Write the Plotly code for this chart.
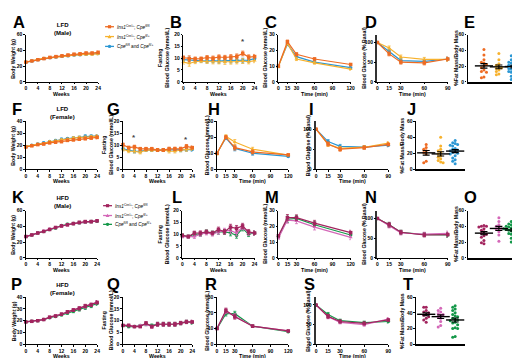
import plotly.graph_objects as go
import numpy as np

W, H = 520, 358
FONT = "Arial, 'Liberation Sans', sans-serif"

# ---------------- data ----------------
weeks = [0, 2, 4, 6, 8, 10, 12, 14, 16, 18, 20, 22, 24]
gtt_min = [0, 15, 30, 60, 120]
itt_min = [0, 15, 30, 60, 90]
week_ticks = [0, 4, 8, 12, 16, 20, 24]
gtt_ticks = [0, 15, 30, 60, 90, 120]
itt_ticks = [0, 15, 30, 60, 90]

group_names = ["<i>Ins1</i><sup>Cre/+</sup>; <i>Cpe</i><sup>fl/fl</sup>",
               "<i>Ins1</i><sup>Cre/+</sup>; <i>Cpe</i><sup>fl/+</sup>",
               "<i>Cpe</i><sup>fl/fl</sup> and <i>Cpe</i><sup>fl/+</sup>"]

# LFD male
A_o = [25, 26.5, 28, 29.5, 31, 32, 33, 34, 35, 35.5, 36.5, 36.5, 37.5]
A_y = [25, 26.5, 28, 30, 30.5, 31.5, 32.5, 33, 34, 34.5, 35, 35, 35.5]
A_b = [25, 26.5, 28, 29.5, 30.5, 31.5, 32.5, 33, 34, 34.5, 35, 35.5, 36]
A_err = [0.6, 0.7, 0.8, 0.8, 0.9, 1, 1, 1.1, 1.2, 1.2, 1.3, 1.3, 1.4]
B_o = [10.2, 9.8, 9.7, 9.8, 10.3, 10, 10.5, 10.3, 10.5, 10.8, 12, 10.5, 10.7]
B_y = [8.3, 7.8, 8.5, 8.8, 8.6, 8.5, 8.5, 8.3, 8.5, 8.6, 8.8, 8.5, 9]
B_b = [9.4, 9.2, 9, 9, 8.8, 9, 8.8, 9, 9, 9.2, 9, 9.2, 9.8]
B_err = [0.8, 1.2, 0.8, 0.7, 0.8, 0.9, 0.9, 0.9, 1, 1, 1, 0.9, 0.9]
C_o = [10, 25.5, 17.5, 14.5, 11]
C_y = [9.5, 24.5, 14.5, 12, 8]
C_b = [10, 24, 16, 12.5, 9]
C_err = [0.6, 1, 1, 0.8, 0.7]
D_o = [100, 71, 50, 48, 58]
D_y = [100, 86, 63, 57, 57]
D_b = [100, 78, 54, 52, 58]
D_err = [0, 5, 5, 5, 5]
E_o = [41, 34, 28, 25, 24, 22, 20, 18, 15, 13, 12, 6, 5]
E_y = [36, 28, 23, 21, 19, 18, 17, 15, 13, 10, 9]
E_b = [35, 33, 32, 30, 28, 27, 26, 25, 24, 23, 22, 21, 20, 20, 19, 18, 17, 16,
       15, 14, 13, 12, 10, 9, 7, 5, 3]

# LFD female
F_o = [18.5, 19.5, 20.5, 21, 22, 22.5, 23, 24, 24.5, 25, 25.5, 26, 26.5]
F_y = [19, 20, 21, 21.5, 23, 23.5, 24.5, 25, 26, 26.5, 26.5, 27, 27.5]
F_b = [19, 20, 21, 22, 23, 24, 25, 25.5, 26, 26.5, 27.5, 27.5, 27.5]
F_err = [0.5, 0.6, 0.6, 0.7, 0.8, 0.8, 0.9, 0.9, 1, 1, 1.1, 1.1, 1.2]
G_o = [10.2, 9, 9.3, 8.5, 8.5, 8.5, 8, 8, 8.5, 8.5, 8.5, 9.5, 9]
G_y = [8.3, 7.5, 7.5, 7, 8, 8, 8, 8, 7.5, 7.5, 8, 8.3, 8.5]
G_b = [8.5, 8, 7.5, 7.5, 8, 8, 8, 8, 8, 8, 8, 8.3, 8.2]
G_err = [0.7, 0.6, 0.7, 0.6, 0.6, 0.6, 0.6, 0.6, 0.7, 0.7, 0.7, 0.8, 0.7]
H_o = [10, 20, 13.5, 10.8, 9]
H_y = [9.5, 20.5, 17, 12.5, 8.8]
H_b = [10, 19.5, 13, 10, 8]
H_err = [0.6, 1, 1.5, 1.2, 0.6]
I_o = [100, 63, 50, 54, 62]
I_y = [100, 62, 52, 55, 65]
I_b = [100, 69, 57, 55, 60]
I_err = [0, 5, 5, 4, 4]
J_o = [31, 27, 25, 23, 21, 19, 10, 8]
J_y = [40, 29, 25, 23, 21, 19, 17, 15, 13, 11, 9, 8]
J_b = [36, 33, 32, 31, 30, 29, 26, 25, 24, 23, 22, 21, 20, 19, 17, 14, 12, 10, 7]

# HFD male
K_d = [27, 29, 31.5, 33.5, 36, 38.5, 40.5, 42, 43.5, 45, 46, 46, 47]
K_p = [27, 29, 31.5, 34, 36.5, 38.5, 40.5, 42, 43.5, 44.5, 45.5, 46, 47]
K_g = [27, 29, 31.5, 33.5, 36, 38, 41, 42.5, 43.5, 44.5, 45.5, 46, 46.5]
K_err = [0.7, 0.8, 1, 1.1, 1.2, 1.3, 1.3, 1.4, 1.4, 1.5, 1.5, 1.5, 1.5]
L_d = [9.5, 9, 10.5, 10.5, 11, 10.5, 12, 11, 13, 12.5, 13.5, 11, 10.5]
L_p = [9, 9, 9, 10, 10.5, 10, 11, 11.5, 11.5, 10.5, 13, 10.5, 10.5]
L_g = [9.5, 9, 10, 10, 11, 10.5, 11, 11, 10.5, 9.5, 12.5, 10, 10.5]
L_err = [0.6, 0.6, 0.8, 0.9, 0.8, 0.8, 1, 1, 1.2, 1.2, 1.1, 1, 0.9]
M_d = [14, 25.5, 25.5, 22, 16]
M_p = [12.5, 24, 23.5, 19.5, 13]
M_g = [13.5, 24.5, 25, 21, 14.5]
M_err = [0.8, 2, 1.8, 1.8, 1.5]
N_d = [100, 84, 65, 58, 59]
N_p = [100, 82, 63, 60, 62]
N_g = [100, 84, 65, 59, 58]
N_err = [0, 6, 5, 5, 6]
O_d = [41, 40, 40, 39, 37, 35, 33, 31, 30, 28, 26, 22, 19, 18]
O_p = [51, 46, 42, 40, 38, 37, 36, 33, 29, 21]
O_g = [48, 46, 45, 44, 43, 42, 42, 41, 40, 40, 39, 39, 38, 38, 37, 37, 36, 36,
       35, 35, 34, 33, 32, 31, 30, 28, 27, 25, 22, 20, 12]

# HFD female
P_d = [19, 19.5, 20, 21, 23, 24, 25.5, 27.5, 29, 30.5, 32.5, 33.5, 35.5]
P_p = [19, 19.5, 20, 21, 23, 24, 25.5, 27.5, 29, 30.5, 32, 33.5, 35.5]
P_g = [19, 19.5, 20, 21, 22.5, 23.5, 25, 26.5, 28, 29.5, 31, 32.5, 34.5]
P_err = [0.4, 0.4, 0.5, 0.5, 0.7, 0.8, 1, 1.1, 1.2, 1.3, 1.4, 1.4, 1.5]
Q_d = [8, 8, 7.5, 7.5, 9, 7.5, 8.5, 8.5, 8.5, 8.5, 9, 9.5, 9.5]
Q_p = [8, 8, 7.5, 8, 8.5, 7.5, 8.5, 8.5, 8.5, 8.5, 9, 9.5, 9.5]
Q_g = [8, 7.5, 7.5, 8, 8.5, 8, 8.5, 8.5, 8.5, 8.5, 9, 9.5, 9.2]
Q_err = [0.4, 0.5, 0.4, 0.4, 0.6, 0.6, 0.8, 0.8, 0.8, 0.8, 0.7, 0.7, 0.7]
R_d = [10, 21.5, 17.5, 11.5, 8.5]
R_p = [10, 21, 18, 11.5, 8.5]
R_g = [10, 19.5, 19.5, 11.5, 8]
R_err = [0.5, 1.5, 1.5, 0.8, 0.6]
S_d = [100, 71, 58, 53, 62]
S_p = [100, 70, 56, 50, 64]
S_g = [100, 76, 60, 55, 58]
S_err = [0, 5, 4, 4, 4]
T_d = [47, 47, 43, 41, 40, 38, 37, 35, 33, 31, 28]
T_p = [46, 43, 41, 39, 38, 37, 35, 33, 29, 24, 22]
T_g = [49, 47, 45, 43, 40, 38, 36, 35, 33, 32, 31, 30, 28, 27, 25, 21, 20, 20, 10, 9]

# ---------------- styles ----------------
LFD_C = ["#EE6B22", "#F7B22E", "#2B97D4"]
HFD_C = ["#A2245E", "#D468B8", "#149849"]
SYMS = ["square", "triangle-up", "circle"]

WT_Y = "<b>Body Weight (g)</b>"
FG_Y = "<b>Fasting<br>Blood Glucose (mmol/L)</b>"
BG_Y = "<b>Blood Glucose (mmol/L)</b>"
PB_Y = "<b>Blood Glucose (% Basal)</b>"
FM_Y = "<b>%Fat Mass/Body Mass</b>"

R4T, R4B = 291, 339

panels = [
    ("A", "line", weeks, [A_o, A_y, A_b], A_err, [0, 24], week_ticks, [0, 60], [0, 20, 40, 60], WT_Y, "Weeks", LFD_C, (17, 90, 24, 72), 4.5, (10, 11)),
    ("B", "line", weeks, [B_o, B_y, B_b], B_err, [0, 24], week_ticks, [0, 20], [0, 5, 10, 15, 20], FG_Y, "Weeks", LFD_C, (176, 248, 24, 72), 156, (169, 11)),
    ("C", "line", gtt_min, [C_o, C_y, C_b], C_err, [0, 120], gtt_ticks, [0, 30], [0, 10, 20, 30], BG_Y, "Time (min)", LFD_C, (272, 345, 24, 72), 259, (265, 11)),
    ("D", "line", itt_min, [D_o, D_y, D_b], D_err, [0, 90], itt_ticks, [0, 120], [0, 50, 100], PB_Y, "Time (min)", LFD_C, (372, 443, 24, 72), 359, (366, 11)),
    ("E", "dot", None, [E_o, E_y, E_b], None, [-1.1, 2.55], None, [0, 60], [0, 20, 40, 60], FM_Y, None, LFD_C, (463, 518, 24, 72), 452, (465, 11)),
    ("F", "line", weeks, [F_o, F_y, F_b], F_err, [0, 24], week_ticks, [0, 40], [0, 10, 20, 30, 40], WT_Y, "Weeks", LFD_C, (17, 89, 112, 161), 4.5, (8, 99.5)),
    ("G", "line", weeks, [G_o, G_y, G_b], G_err, [0, 24], week_ticks, [0, 20], [0, 5, 10, 15, 20], FG_Y, "Weeks", LFD_C, (115, 185, 112, 161), 99.5, (106, 99.5)),
    ("H", "line", gtt_min, [H_o, H_y, H_b], H_err, [0, 120], gtt_ticks, [0, 30], [0, 10, 20, 30], BG_Y, "Time (min)", LFD_C, (210, 282, 112, 161), 200, (207, 99.5)),
    ("I", "line", itt_min, [I_o, I_y, I_b], I_err, [0, 90], itt_ticks, [0, 120], [0, 50, 100], PB_Y, "Time (min)", LFD_C, (310, 383, 112, 161), 302, (305, 99.5)),
    ("J", "dot", None, [J_o, J_y, J_b], None, [-0.7, 2.65], None, [0, 60], [0, 20, 40, 60], FM_Y, None, LFD_C, (411, 460, 112, 161), 397, (406, 99.5)),
    ("K", "line", weeks, [K_d, K_p, K_g], K_err, [0, 24], week_ticks, [0, 60], [0, 20, 40, 60], WT_Y, "Weeks", HFD_C, (17, 89, 203, 251), 4.5, (9, 189)),
    ("L", "line", weeks, [L_d, L_p, L_g], L_err, [0, 24], week_ticks, [0, 20], [0, 5, 10, 15, 20], FG_Y, "Weeks", HFD_C, (175, 248, 203, 251), 155.5, (170, 189)),
    ("M", "line", gtt_min, [M_d, M_p, M_g], M_err, [0, 120], gtt_ticks, [0, 30], [0, 10, 20, 30], BG_Y, "Time (min)", HFD_C, (272, 345, 203, 251), 259, (266, 189)),
    ("N", "line", itt_min, [N_d, N_p, N_g], N_err, [0, 90], itt_ticks, [0, 120], [0, 50, 100], PB_Y, "Time (min)", HFD_C, (372, 443, 203, 251), 359, (366, 189)),
    ("O", "dot", None, [O_d, O_p, O_g], None, [-1.1, 2.55], None, [0, 60], [0, 20, 40, 60], FM_Y, None, HFD_C, (463, 518, 203, 251), 452, (466, 189)),
    ("P", "line", weeks, [P_d, P_p, P_g], P_err, [0, 24], week_ticks, [0, 40], [0, 10, 20, 30, 40], WT_Y, "Weeks", HFD_C, (17, 89, R4T, R4B), 4.5, (8, 277.5)),
    ("Q", "line", weeks, [Q_d, Q_p, Q_g], Q_err, [0, 24], week_ticks, [0, 20], [0, 5, 10, 15, 20], FG_Y, "Weeks", HFD_C, (115, 185, R4T, R4B), 99.5, (106, 277.5)),
    ("R", "line", gtt_min, [R_d, R_p, R_g], R_err, [0, 120], gtt_ticks, [0, 30], [0, 10, 20, 30], BG_Y, "Time (min)", HFD_C, (210, 282, R4T, R4B), 200, (204, 277.5)),
    ("S", "line", itt_min, [S_d, S_p, S_g], S_err, [0, 90], itt_ticks, [0, 120], [0, 50, 100], PB_Y, "Time (min)", HFD_C, (310, 383, R4T, R4B), 302, (303, 277.5)),
    ("T", "dot", None, [T_d, T_p, T_g], None, [-0.7, 2.65], None, [0, 60], [0, 20, 40, 60], FM_Y, None, HFD_C, (411, 460, R4T, R4B), 397, (403, 277.5)),
]


def swarm(vals, ybin, step):
    vals = np.asarray(vals, dtype=float)
    offs = np.zeros(len(vals))
    placed = []
    pattern = [0, -1, 1, -2, 2, -3, 3, -4, 4, -5, 5]
    for i in np.argsort(-vals):
        used = {s for (y, s) in placed if abs(y - vals[i]) < ybin}
        for s in pattern:
            if s not in used:
                break
        placed.append((vals[i], s))
        offs[i] = s * step
    return offs


fig = go.Figure()
layout = {}
annots = []
shapes = []

tickfont = dict(size=5, family=FONT, color="black", weight="bold")

for k, (letter, kind, xs, series, err, xr, xt, yr, yt, ytitle, xtitle, cols, box, ytx, lpos) in enumerate(panels):
    n = k + 1
    xa = "xaxis" if n == 1 else f"xaxis{n}"
    ya = "yaxis" if n == 1 else f"yaxis{n}"
    xref = "x" if n == 1 else f"x{n}"
    yref = "y" if n == 1 else f"y{n}"
    x0, x1, yt0, yb0 = box
    xthick = 1.8 if kind == "dot" else 1.2
    ythick = 1.8 if yr[1] == 120 else 1.2
    layout[xa] = dict(domain=[x0 / W, x1 / W], anchor=yref, range=xr, showgrid=False, zeroline=False,
                      showline=True, linecolor="black", linewidth=xthick, fixedrange=True,
                      ticks="outside" if kind == "line" else "", ticklen=1.5, tickwidth=0.8, tickcolor="black",
                      tickvals=xt if xt else [], showticklabels=kind == "line", tickfont=tickfont)
    layout[ya] = dict(domain=[1 - yb0 / H, 1 - yt0 / H], anchor=xref, range=yr, showgrid=False, zeroline=False,
                      showline=True, linecolor="black" if ythick < 1.5 else "#333", linewidth=ythick, fixedrange=True,
                      ticks="outside", ticklen=1.5, tickwidth=0.8, tickcolor="black",
                      tickvals=yt, tickfont=tickfont)
    if kind == "line":
        order = list(zip(series, cols, SYMS))[::-1]
        for ys, c, sym in order:
            fig.add_trace(go.Scatter(x=xs, y=ys, xaxis=xref, yaxis=yref, mode="lines+markers",
                                     line=dict(color=c, width=1.2), cliponaxis=False,
                                     marker=dict(symbol=sym, size=3.5, color=c),
                                     error_y=dict(type="data", array=err, color=c, thickness=0.8, width=1.5),
                                     showlegend=False))
        off = 11.7 if yb0 > 300 else 12
        annots.append(dict(text=f"<b>{xtitle}</b>", x=(x0 + x1) / 2 / W, y=1 - (yb0 + off) / H,
                           xref="paper", yref="paper", showarrow=False, xanchor="center", yanchor="middle",
                           borderpad=0, font=dict(size=5.3, family=FONT, color="black")))
    else:
        ybin = (yr[1] - yr[0]) / (yb0 - yt0) * 3.2
        for g, (vals, c) in enumerate(zip(series, cols)):
            offs = swarm(vals, ybin, 0.17)
            fig.add_trace(go.Scatter(x=[g + o for o in offs], y=vals, xaxis=xref, yaxis=yref, mode="markers",
                                     marker=dict(symbol="circle", size=3, color=c), cliponaxis=False,
                                     showlegend=False))
        means = [float(np.mean(v)) for v in series]
        sems = [float(np.std(v, ddof=1) / np.sqrt(len(v))) for v in series]
        fig.add_trace(go.Scatter(x=[0, 1, 2], y=means, xaxis=xref, yaxis=yref, mode="markers",
                                 marker=dict(symbol="line-ew", size=13, color="black",
                                             line=dict(width=1.4, color="black")),
                                 error_y=dict(type="data", array=sems, color="black", thickness=1.1, width=3.5),
                                 cliponaxis=False, showlegend=False))
    annots.append(dict(text=ytitle, x=ytx / W, y=1 - (yt0 + yb0) / 2 / H, xref="paper", yref="paper",
                       textangle=-90, showarrow=False, xanchor="center", yanchor="middle", borderpad=0,
                       font=dict(size=5.2, family=FONT, color="black")))
    annots.append(dict(text=f"<b>{letter}</b>", x=lpos[0] / W, y=1 - lpos[1] / H, xref="paper", yref="paper",
                       showarrow=False, xanchor="center", yanchor="middle", borderpad=0,
                       font=dict(size=16.5, family=FONT, color="black")))

# asterisks
for ax, xv, yv in [("2", 20, 17), ("7", 4, 13), ("7", 22, 12.5)]:
    annots.append(dict(text="<b>*</b>", x=xv, y=yv, xref="x" + ax, yref="y" + ax, showarrow=False,
                       font=dict(size=8, family=FONT, color="#444")))

# cohort titles
for txt, ypx in [("LFD<br>(Male)", 18.5), ("LFD<br>(Female)", 103.5), ("HFD<br>(Male)", 194), ("HFD<br>(Female)", 282.5)]:
    annots.append(dict(text=f"<b>{txt}</b>", x=54 / W, y=1 - ypx / H, xref="paper", yref="paper",
                       showarrow=False, xanchor="center", yanchor="middle", borderpad=0,
                       font=dict(size=6, family=FONT, color="black")))

# legends (drawn manually)
for cols, lx, ys in [(LFD_C, 97, [16, 26, 36]), (HFD_C, 95, [198, 208, 217])]:
    for c, sym, name, ly in zip(cols, SYMS, group_names, ys):
        yy = 1 - ly / H
        shapes.append(dict(type="line", xref="paper", yref="paper", x0=lx / W, x1=(lx + 9) / W, y0=yy, y1=yy,
                           line=dict(color=c, width=1.3)))
        cx = lx + 4.5
        if sym == "square":
            shapes.append(dict(type="rect", xref="paper", yref="paper", x0=(cx - 1.6) / W, x1=(cx + 1.6) / W,
                               y0=1 - (ly + 1.6) / H, y1=1 - (ly - 1.6) / H, fillcolor=c, line=dict(width=0)))
        elif sym == "circle":
            shapes.append(dict(type="circle", xref="paper", yref="paper", x0=(cx - 1.7) / W, x1=(cx + 1.7) / W,
                               y0=1 - (ly + 1.7) / H, y1=1 - (ly - 1.7) / H, fillcolor=c, line=dict(width=0)))
        else:
            shapes.append(dict(type="path", xref="paper", yref="paper",
                               path=f"M {(cx - 1.9) / W} {1 - (ly + 1.6) / H} L {(cx + 1.9) / W} {1 - (ly + 1.6) / H} L {cx / W} {1 - (ly - 1.9) / H} Z",
                               fillcolor=c, line=dict(width=0)))
        annots.append(dict(text=name, x=(lx + 11) / W, y=yy, xref="paper", yref="paper", showarrow=False,
                           xanchor="left", yanchor="middle", borderpad=0,
                           font=dict(size=4.7, family=FONT, color="black")))

fig.update_layout(width=W, height=H, margin=dict(l=0, r=0, t=0, b=0), paper_bgcolor="white",
                  plot_bgcolor="white", showlegend=False, annotations=annots, shapes=shapes,
                  font=dict(family=FONT, color="black"), **layout)

fig.write_html("out.html")
